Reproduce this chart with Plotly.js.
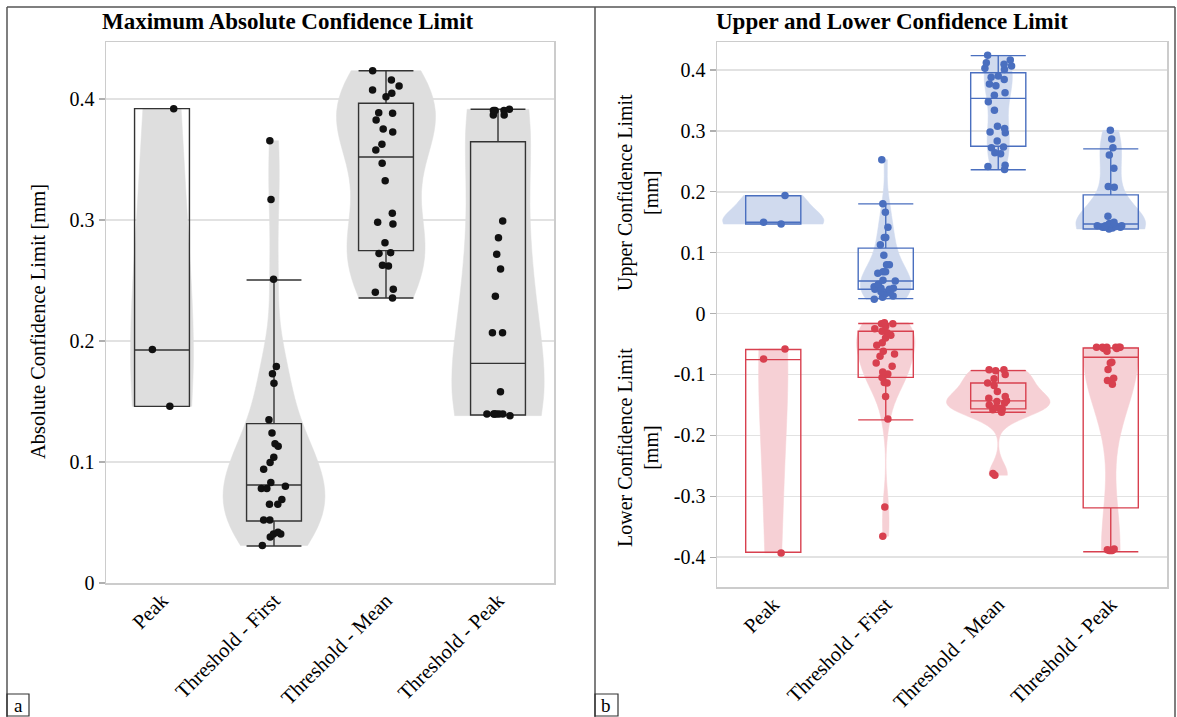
<!DOCTYPE html>
<html>
<head>
<meta charset="utf-8">
<script src="https://cdn.plot.ly/plotly-3.0.1.min.js"></script>
<style>html,body{margin:0;padding:0;background:#fff;}#chart{width:1177px;height:717px;}</style>
</head>
<body>
<div id="chart"></div>
<script>
// ---------- categories ----------
const categories = ['Peak', 'Threshold - First', 'Threshold - Mean', 'Threshold - Peak'];

// ---------- panel a: maximum absolute confidence limit [mm] ----------
const absPeak = [0.392, 0.193, 0.146];
const absFirst = [0.3655, 0.317, 0.251, 0.179, 0.173, 0.165, 0.135, 0.124, 0.115, 0.113, 0.104, 0.0995, 0.094, 0.083,
  0.080, 0.078, 0.078, 0.069, 0.065, 0.065, 0.052, 0.052, 0.042, 0.0405, 0.0405, 0.038, 0.031];
const absMean = [0.4234, 0.4157, 0.4107, 0.4074, 0.4047, 0.4019, 0.3887, 0.3882, 0.3826, 0.3752, 0.3727, 0.3625, 0.3579,
  0.3468, 0.3325, 0.3055, 0.2981, 0.2967, 0.2812, 0.2724, 0.273, 0.262, 0.2625, 0.2427, 0.2402, 0.2355];
const absThrPeak = [0.3915, 0.3904, 0.3904, 0.3904, 0.3868, 0.3868, 0.2992, 0.2854, 0.2716, 0.2595, 0.237, 0.2069, 0.2069,
  0.158, 0.1397, 0.1397, 0.1397, 0.1397, 0.1397, 0.1397, 0.1383];
// box statistics (per category)
const absQ1 = [0.146, 0.0512, 0.2747, 0.1388];
const absMedian = [0.1926, 0.081, 0.352, 0.1815];
const absQ3 = [0.392, 0.1317, 0.3965, 0.3647];
const absLow = [0.146, 0.0306, 0.2355, 0.1388];
const absHigh = [0.392, 0.2504, 0.4234, 0.3915];

// ---------- panel b: upper confidence limit [mm] ----------
const upPeak = [0.194, 0.150, 0.147];
const upFirst = [0.2528, 0.1802, 0.1663, 0.1416, 0.125, 0.125, 0.113, 0.096, 0.080, 0.080, 0.0685, 0.0685, 0.0663, 0.0548,
  0.0536, 0.0482, 0.0416, 0.0416, 0.040, 0.040, 0.0343, 0.0327, 0.0289, 0.0234, 0.036, 0.044, 0.027];
const upMean = [0.4243, 0.4166, 0.412, 0.4095, 0.4066, 0.403, 0.401, 0.390, 0.388, 0.3845, 0.377, 0.374, 0.3625, 0.3585,
  0.348, 0.334, 0.3075, 0.304, 0.298, 0.297, 0.2835, 0.2735, 0.2725, 0.264, 0.2625, 0.2434, 0.2417, 0.2368];
const upThrPeak = [0.301, 0.2868, 0.2725, 0.2604, 0.2385, 0.2076, 0.2087, 0.1597, 0.1498, 0.148, 0.148, 0.148, 0.1444,
  0.1444, 0.1444, 0.1416, 0.1416, 0.1416, 0.139, 0.1405, 0.143];
const upQ1 = [0.147, 0.040, 0.2747, 0.139];
const upMedian = [0.150, 0.0536, 0.3535, 0.147];
const upQ3 = [0.1935, 0.1075, 0.3955, 0.195];
const upLow = [0.147, 0.0245, 0.2363, 0.139];
const upHigh = [0.1935, 0.1802, 0.4237, 0.2705];

// ---------- panel b: lower confidence limit [mm] ----------
const lowPeak = [-0.058, -0.0746, -0.393];
const lowFirst = [-0.0168, -0.0152, -0.0168, -0.0206, -0.025, -0.0316, -0.0289, -0.0355, -0.040, -0.048, -0.052, -0.0619,
  -0.0663, -0.0701, -0.081, -0.0866, -0.096, -0.0993, -0.1048, -0.113, -0.1141, -0.136, -0.173, -0.3177, -0.3655];
const lowMean = [-0.0921, -0.0921, -0.0937, -0.100, -0.107, -0.114, -0.118, -0.128, -0.136, -0.139, -0.1433, -0.1444,
  -0.147, -0.150, -0.154, -0.1554, -0.1565, -0.158, -0.162, -0.2627, -0.2654];
const lowThrPeak = [-0.0553, -0.0553, -0.0553, -0.0553, -0.0553, -0.0553, -0.0575, -0.0575, -0.062, -0.080, -0.081, -0.092,
  -0.106, -0.110, -0.116, -0.3865, -0.389, -0.389, -0.389, -0.388];
const lowQ1 = [-0.392, -0.1048, -0.1565, -0.319];
const lowMedian = [-0.0756, -0.059, -0.1433, -0.0718];
const lowQ3 = [-0.059, -0.0289, -0.114, -0.0564];
const lowLow = [-0.392, -0.1746, -0.162, -0.391];
const lowHigh = [-0.059, -0.0162, -0.0937, -0.0564];

// ---------- tick labels ----------
const leftTickVals = [0, 0.1, 0.2, 0.3, 0.4];
const leftTickText = ['0', '0.1', '0.2', '0.3', '0.4'];
const rightTickVals = [-0.4, -0.3, -0.2, -0.1, 0, 0.1, 0.2, 0.3, 0.4];
const rightTickText = ['-0.4', '-0.3', '-0.2', '-0.1', '0', '0.1', '0.2', '0.3', '0.4'];

// ---------- styles (max violin width per category, fraction of category slot) ----------
const leftViolinWidths = [0.56, 0.91, 0.88, 0.82];
const upperViolinWidths = [0.9, 0.45, 0.25, 0.62];
const lowerViolinWidths = [0.26, 0.52, 0.92, 0.48];

// ---------- helpers ----------
const W = 1177, H = 717;
const px = v => v / W;
const py = v => 1 - v / H;
const FONT = 'Liberation Serif, Times New Roman, serif';

function longForm(groups) {
  const xs = [], ys = [];
  groups.forEach((g, i) => g.forEach(v => { xs.push(categories[i]); ys.push(v); }));
  return {x: xs, y: ys};
}

function violinTraces(groups, widths, xa, ya, fill) {
  return groups.map((g, i) => ({
    type: 'violin', x: g.map(() => categories[i]), y: g, xaxis: xa, yaxis: ya,
    width: widths[i],
    fillcolor: fill, line: {color: fill, width: 0.5},
    points: false, box: {visible: false}, meanline: {visible: false},
    spanmode: 'hard', hoverinfo: 'skip', showlegend: false
  }));
}

function boxStatsTrace(q1, med, q3, lo, hi, xa, ya, color) {
  return {
    type: 'box', x: categories, q1: q1, median: med, q3: q3, lowerfence: lo, upperfence: hi,
    xaxis: xa, yaxis: ya, width: 0.49, whiskerwidth: 1,
    fillcolor: 'rgba(0,0,0,0)', line: {color: color, width: 1.4},
    boxpoints: false, hoverinfo: 'skip', showlegend: false
  };
}

function pointsTrace(groups, xa, ya, color) {
  const d = longForm(groups);
  return {
    type: 'box', x: d.x, y: d.y, xaxis: xa, yaxis: ya, width: 0.49,
    boxpoints: 'all', jitter: 0.55, pointpos: 0,
    fillcolor: 'rgba(0,0,0,0)', line: {color: 'rgba(0,0,0,0)', width: 0},
    marker: {color: color, size: 7.5, line: {width: 0}},
    hoverinfo: 'y', showlegend: false
  };
}

const BLUE = '#4a6fbf', RED = '#d8404f';
const BLUE_FILL = 'rgb(208,218,238)', RED_FILL = 'rgb(246,208,213)';

const data = [].concat(
  violinTraces([absPeak, absFirst, absMean, absThrPeak], leftViolinWidths, 'x', 'y', 'rgb(222,222,222)'),
  violinTraces([upPeak, upFirst, upMean, upThrPeak], upperViolinWidths, 'x2', 'y2', BLUE_FILL),
  violinTraces([lowPeak, lowFirst, lowMean, lowThrPeak], lowerViolinWidths, 'x2', 'y2', RED_FILL),
  [
    boxStatsTrace(absQ1, absMedian, absQ3, absLow, absHigh, 'x', 'y', '#333333'),
    boxStatsTrace(upQ1, upMedian, upQ3, upLow, upHigh, 'x2', 'y2', BLUE),
    boxStatsTrace(lowQ1, lowMedian, lowQ3, lowLow, lowHigh, 'x2', 'y2', RED),
    pointsTrace([absPeak, absFirst, absMean, absThrPeak], 'x', 'y', '#111111'),
    pointsTrace([upPeak, upFirst, upMean, upThrPeak], 'x2', 'y2', BLUE),
    pointsTrace([lowPeak, lowFirst, lowMean, lowThrPeak], 'x2', 'y2', RED)
  ]
);

const xCommon = {
  type: 'category', categoryorder: 'array', categoryarray: categories, range: [-0.5, 3.5],
  tickangle: -45, tickfont: {family: FONT, size: 20.5, color: '#000'}, ticklabelstandoff: -4,
  showgrid: false, zeroline: false, showline: true, mirror: true, linecolor: '#cccccc', linewidth: 1.5,
  ticks: ''
};
const yCommon = {
  tickfont: {family: FONT, size: 20, color: '#000'}, tickmode: 'array',
  showgrid: true, gridcolor: '#e2e2e2', gridwidth: 1.5, zeroline: false,
  showline: true, mirror: true, linecolor: '#cccccc', linewidth: 1.5,
  ticks: 'outside', ticklen: 6, tickcolor: '#b0b0b0', tickwidth: 1.2
};

const layout = {
  width: W, height: H, margin: {l: 0, r: 0, t: 0, b: 0},
  paper_bgcolor: '#ffffff', plot_bgcolor: '#ffffff', showlegend: false,
  violinmode: 'overlay', boxmode: 'overlay',
  font: {family: FONT, color: '#000'},
  xaxis: Object.assign({}, xCommon, {domain: [px(106), px(554)], anchor: 'y'}),
  yaxis: Object.assign({}, yCommon, {domain: [py(583), py(42)], anchor: 'x', range: [0, 0.4471],
    tickvals: leftTickVals, ticktext: leftTickText}),
  xaxis2: Object.assign({}, xCommon, {domain: [px(717), px(1167)], anchor: 'y2'}),
  yaxis2: Object.assign({}, yCommon, {domain: [py(587), py(42)], anchor: 'x2', range: [-0.449, 0.446],
    tickvals: rightTickVals, ticktext: rightTickText}),
  annotations: [
    {xref: 'paper', yref: 'paper', x: px(288), y: py(22), xanchor: 'center', yanchor: 'middle', showarrow: false,
      text: '<b>Maximum Absolute Confidence Limit</b>', font: {family: FONT, size: 23, color: '#000'}},
    {xref: 'paper', yref: 'paper', x: px(892), y: py(22), xanchor: 'center', yanchor: 'middle', showarrow: false,
      text: '<b>Upper and Lower Confidence Limit</b>', font: {family: FONT, size: 23, color: '#000'}},
    {xref: 'paper', yref: 'paper', x: px(38), y: py(322), xanchor: 'center', yanchor: 'middle', showarrow: false,
      textangle: -90, text: 'Absolute Confidence Limit [mm]', font: {family: FONT, size: 20.5, color: '#000'}},
    {xref: 'paper', yref: 'paper', x: px(638), y: py(192), xanchor: 'center', yanchor: 'middle', showarrow: false,
      textangle: -90, text: 'Upper Confidence Limit<br>[mm]', font: {family: FONT, size: 20, color: '#000'}},
    {xref: 'paper', yref: 'paper', x: px(638), y: py(447), xanchor: 'center', yanchor: 'middle', showarrow: false,
      textangle: -90, text: 'Lower Confidence Limit<br>[mm]', font: {family: FONT, size: 20, color: '#000'}},
    {xref: 'paper', yref: 'paper', x: px(18), y: py(705), xanchor: 'center', yanchor: 'middle', showarrow: false,
      text: 'a', font: {family: FONT, size: 19, color: '#000'}},
    {xref: 'paper', yref: 'paper', x: px(606), y: py(705), xanchor: 'center', yanchor: 'middle', showarrow: false,
      text: 'b', font: {family: FONT, size: 19, color: '#000'}}
  ],
  shapes: [
    {type: 'line', xref: 'paper', yref: 'paper', x0: px(7), x1: px(1175), y0: py(7), y1: py(7), line: {color: '#555', width: 1.5}},
    {type: 'line', xref: 'paper', yref: 'paper', x0: px(7), x1: px(7), y0: py(7), y1: py(717), line: {color: '#555', width: 1.5}},
    {type: 'line', xref: 'paper', yref: 'paper', x0: px(595), x1: px(595), y0: py(7), y1: py(717), line: {color: '#555', width: 1.5}},
    {type: 'line', xref: 'paper', yref: 'paper', x0: px(1175), x1: px(1175), y0: py(7), y1: py(717), line: {color: '#555', width: 1.5}},
    {type: 'rect', xref: 'paper', yref: 'paper', x0: px(7), x1: px(29), y0: py(716), y1: py(694), line: {color: '#333', width: 1.2}},
    {type: 'rect', xref: 'paper', yref: 'paper', x0: px(595), x1: px(618), y0: py(716), y1: py(694), line: {color: '#333', width: 1.2}}
  ]
};

Plotly.newPlot('chart', data, layout, {displayModeBar: false, staticPlot: true});
</script>
</body>
</html>
